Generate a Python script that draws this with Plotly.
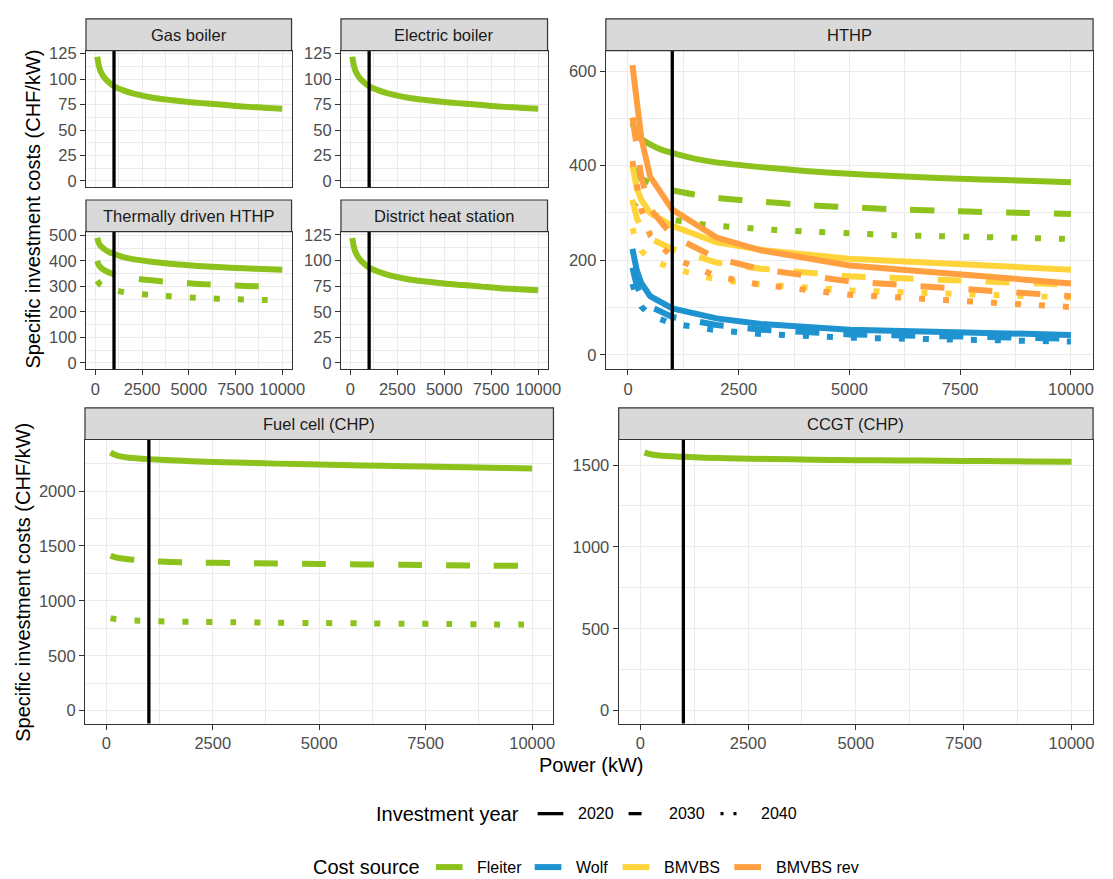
import plotly.graph_objects as go

W, H = 1113, 879

# ---------------------------------------------------------------- data
# power grid of the smooth (Fleiter) cost curves, kW
power = [100, 200, 300, 500, 750, 1000, 1500, 2000, 3000, 4000, 5000,
         6000, 7000, 8000, 9000, 10000]
# power grid of the tabulated HTHP cost sources, kW
power_hp = [100, 200, 300, 500, 1000, 2000, 3000, 5000, 10000]

gas_boiler_2020 = [122, 112.5, 107, 101, 96.5, 93, 89, 86, 82, 79.5, 77.5,
                   76, 74.5, 73, 72, 71]
electric_boiler_2020 = [122, 112.5, 107, 101, 96.5, 93, 89, 86, 82, 79.5,
                        77.5, 76, 74.5, 73, 72, 71]
district_heat_2020 = [122, 112.5, 107, 101, 96.5, 93, 89, 86, 82, 79.5, 77.5,
                      76, 74.5, 73, 72, 71]

fleiter_hthp_2020 = [490, 468, 457, 445, 434, 427, 415, 407, 397, 389, 383,
                     378, 374, 371, 368, 365]
fleiter_hthp_2030 = [400, 382, 373, 363, 354, 348, 339, 332, 324, 317, 312,
                     308, 305, 302, 300, 298]
fleiter_hthp_2040 = [322, 312, 305, 298, 291, 286, 278, 273, 266, 261, 257,
                     253, 251, 249, 247, 245]

wolf_2020 = [224, 178, 152, 124, 98, 77, 65, 53, 42]
wolf_2030 = [184, 146, 125, 102, 80, 63, 53, 43, 34]
wolf_2040 = [150, 119, 102, 83, 66, 52, 44, 36, 28]
bmvbs_2020 = [400, 352, 328, 300, 273, 238, 222, 203, 180]
bmvbs_2030 = [328, 289, 269, 246, 224, 195, 182, 166, 148]
bmvbs_2040 = [268, 236, 220, 201, 183, 159, 149, 136, 121]
bmvbs_rev_2020 = [613, 528, 459, 377, 307, 248, 221, 189, 151]
bmvbs_rev_2030 = [502, 433, 376, 309, 252, 204, 181, 155, 124]
bmvbs_rev_2040 = [410, 354, 308, 253, 206, 166, 148, 127, 101]

fuel_cell_2020 = [2352, 2330, 2318, 2305, 2297, 2291, 2280, 2272, 2260, 2250,
                  2242, 2234, 2226, 2220, 2213, 2206]
fuel_cell_2030 = [1412, 1398, 1390, 1380, 1370, 1362, 1355, 1350, 1345, 1340,
                  1336, 1332, 1328, 1325, 1321, 1318]
fuel_cell_2040 = [843, 835, 830, 824, 820, 817, 812, 809, 805, 801, 798, 795,
                  792, 789, 786, 784]
ccgt_2020 = [1577, 1568, 1563, 1557, 1553, 1550, 1545, 1541, 1537, 1533,
             1530, 1528, 1526, 1524, 1522, 1520]

reference_size_kw = 1000
years = ["2020", "2030", "2040"]
sources = ["Fleiter", "Wolf", "BMVBS", "BMVBS rev"]

# ---------------------------------------------------------------- styles
FONT = "Liberation Sans, Arial, sans-serif"
colors = {"Fleiter": "#8cc21b", "Wolf": "#1e93cf",
          "BMVBS": "#ffd43b", "BMVBS rev": "#ff9f40"}
dashes = {"2020": "solid", "2030": "24px,24px", "2040": "6px,18px"}
LINE_W = 6
GRID = "#ebebeb"
DARK = "#333333"
TICK_TXT = "#4d4d4d"


def fx(px):
    return px / W


def fy(py):
    return 1 - py / H


# panel title, left, right, top, bottom (pixels), x labels shown, y step
panels = [
    ("Gas boiler", 87, 295, 45, 183, False, 25),
    ("Electric boiler", 345, 554, 45, 183, False, 25),
    ("Thermally driven HTHP", 87, 295, 228, 367, True, 100),
    ("District heat station", 345, 554, 228, 367, True, 25),
    ("HTHP", 613, 1106, 45, 367, True, 200),
    ("Fuel cell (CHP)", 86, 560, 438, 725, True, 500),
    ("CCGT (CHP)", 626, 1106, 438, 725, True, 500),
]
STRIP_H = 32

fleiter_hthp = [("Fleiter", "2020", power, fleiter_hthp_2020),
                ("Fleiter", "2030", power, fleiter_hthp_2030),
                ("Fleiter", "2040", power, fleiter_hthp_2040)]
series = [
    [("Fleiter", "2020", power, gas_boiler_2020)],
    [("Fleiter", "2020", power, electric_boiler_2020)],
    fleiter_hthp,
    [("Fleiter", "2020", power, district_heat_2020)],
    fleiter_hthp + [
        ("Wolf", "2020", power_hp, wolf_2020),
        ("Wolf", "2030", power_hp, wolf_2030),
        ("Wolf", "2040", power_hp, wolf_2040),
        ("BMVBS", "2020", power_hp, bmvbs_2020),
        ("BMVBS", "2030", power_hp, bmvbs_2030),
        ("BMVBS", "2040", power_hp, bmvbs_2040),
        ("BMVBS rev", "2020", power_hp, bmvbs_rev_2020),
        ("BMVBS rev", "2030", power_hp, bmvbs_rev_2030),
        ("BMVBS rev", "2040", power_hp, bmvbs_rev_2040),
    ],
    [("Fleiter", "2020", power, fuel_cell_2020),
     ("Fleiter", "2030", power, fuel_cell_2030),
     ("Fleiter", "2040", power, fuel_cell_2040)],
    [("Fleiter", "2020", power, ccgt_2020)],
]

x_range = [-500, 10500]

fig = go.Figure()
shapes = []
annotations = []
layout_axes = {}

for k, ((title, x0, x1, y0, y1, show_x, ystep), lines) in enumerate(
        zip(panels, series), start=1):
    xa = "x" if k == 1 else f"x{k}"
    ya = "y" if k == 1 else f"y{k}"
    for src, yr, xs, ys in lines:
        # Fleiter curves are smooth cost functions, the others tabulated
        shape = "spline" if src == "Fleiter" else "linear"
        fig.add_trace(go.Scatter(
            x=xs, y=ys, mode="lines", xaxis=xa, yaxis=ya,
            line=dict(color=colors[src], width=LINE_W, dash=dashes[yr],
                      shape=shape, smoothing=0.8),
            showlegend=False, hoverinfo="skip"))

    y_hi = max(max(v) for _, _, _, v in lines)
    pad = 0.05 * y_hi
    common = dict(showgrid=True, gridcolor=GRID, gridwidth=1.4,
                  zeroline=False, showline=True, mirror=True,
                  linecolor=DARK, linewidth=1.2, ticklen=5, tickwidth=1.1,
                  tickcolor=DARK, tickformat="d",
                  tickfont=dict(family=FONT, size=16.5, color=TICK_TXT),
                  fixedrange=True)
    layout_axes["xaxis" if k == 1 else f"xaxis{k}"] = dict(
        common, domain=[fx(x0), fx(x1)], range=x_range, anchor=ya,
        tick0=0, dtick=2500, ticks="outside" if show_x else "",
        showticklabels=show_x,
        minor=dict(dtick=1250, tick0=0, showgrid=True, gridcolor=GRID,
                   gridwidth=0.7))
    layout_axes["yaxis" if k == 1 else f"yaxis{k}"] = dict(
        common, domain=[fy(y1), fy(y0)], range=[-pad, y_hi + pad],
        anchor=xa, tick0=0, dtick=ystep, ticks="outside",
        minor=dict(dtick=ystep / 2, tick0=0, showgrid=True, gridcolor=GRID,
                   gridwidth=0.7))

    # reference unit size marker
    shapes.append(dict(type="line", xref=xa, yref=f"{ya} domain",
                       x0=reference_size_kw, x1=reference_size_kw,
                       y0=0, y1=1, layer="above",
                       line=dict(color="black", width=3.3)))
    # facet strip
    shapes.append(dict(type="rect", xref="paper", yref="paper",
                       x0=fx(x0), x1=fx(x1), y0=fy(y0), y1=fy(y0 - STRIP_H),
                       fillcolor="#d9d9d9", line=dict(color=DARK, width=1.2),
                       layer="above"))
    annotations.append(dict(text=title, xref="paper", yref="paper",
                            x=fx((x0 + x1) / 2), y=fy(y0 - STRIP_H / 2),
                            xanchor="center", yanchor="middle",
                            showarrow=False,
                            font=dict(family=FONT, size=16.5,
                                      color="#1a1a1a")))

# axis titles
ytitle = "Specific investment costs (CHF/kW)"
annotations += [
    dict(text=ytitle, xref="paper", yref="paper", x=fx(33), y=fy(205),
         textangle=-90, showarrow=False, xanchor="center", yanchor="middle",
         font=dict(family=FONT, size=20, color="black")),
    dict(text=ytitle, xref="paper", yref="paper", x=fx(23), y=fy(582),
         textangle=-90, showarrow=False, xanchor="center", yanchor="middle",
         font=dict(family=FONT, size=20, color="black")),
    dict(text="Power (kW)", xref="paper", yref="paper", x=fx(598),
         y=fy(767), showarrow=False, xanchor="center", yanchor="middle",
         font=dict(family=FONT, size=20, color="black")),
]

# legend: investment year (line type)
LY1 = 816
annotations.append(dict(text="Investment year", xref="paper", yref="paper",
                        x=fx(378), y=fy(LY1), xanchor="left",
                        yanchor="middle", showarrow=False,
                        font=dict(family=FONT, size=20, color="black")))
year_keys = {"2020": (544, "solid"), "2030": (636, "13px,13px"),
             "2040": (729, "3px,10px")}
for yr in years:
    kx, kd = year_keys[yr]
    shapes.append(dict(type="line", xref="paper", yref="paper",
                       x0=fx(kx), x1=fx(kx + 26), y0=fy(LY1), y1=fy(LY1),
                       line=dict(color="black", width=3.3, dash=kd)))
    annotations.append(dict(text=yr, xref="paper", yref="paper",
                            x=fx(kx + 39), y=fy(LY1), xanchor="left",
                            yanchor="middle", showarrow=False,
                            font=dict(family=FONT, size=16, color="black")))

# legend: cost source (colour)
LY2 = 870
annotations.append(dict(text="Cost source", xref="paper", yref="paper",
                        x=fx(315), y=fy(LY2), xanchor="left",
                        yanchor="middle", showarrow=False,
                        font=dict(family=FONT, size=20, color="black")))
source_keys = {"Fleiter": 441, "Wolf": 541, "BMVBS": 630, "BMVBS rev": 743}
for src in sources:
    kx = source_keys[src]
    shapes.append(dict(type="line", xref="paper", yref="paper",
                       x0=fx(kx), x1=fx(kx + 27), y0=fy(LY2), y1=fy(LY2),
                       line=dict(color=colors[src], width=6)))
    annotations.append(dict(text=src, xref="paper", yref="paper",
                            x=fx(kx + 40), y=fy(LY2), xanchor="left",
                            yanchor="middle", showarrow=False,
                            font=dict(family=FONT, size=16, color="black")))

fig.update_layout(
    width=W, height=H, margin=dict(l=0, r=0, t=0, b=0),
    paper_bgcolor="white", plot_bgcolor="white",
    showlegend=False, shapes=shapes, annotations=annotations,
    font=dict(family=FONT),
    **layout_axes)

fig.write_html(
    "out.html",
    config={"displayModeBar": False, "responsive": False},
    post_script="document.body.style.margin='0';"
                "document.body.style.overflow='hidden';")
